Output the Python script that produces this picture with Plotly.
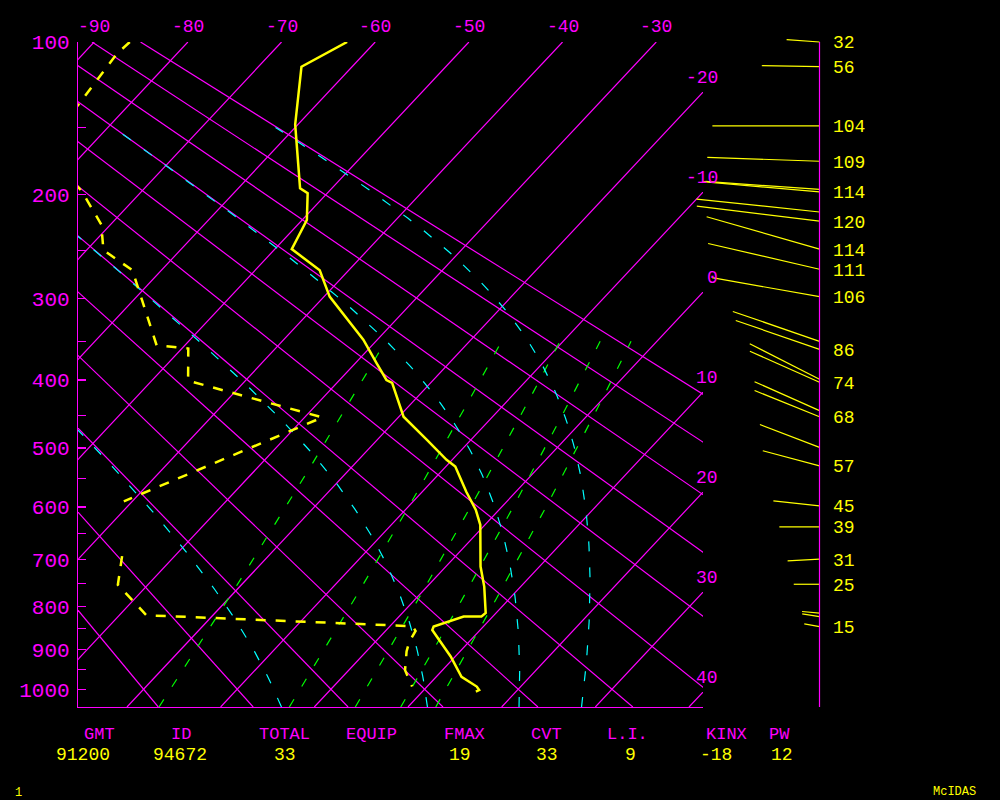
import numpy as np
import plotly.graph_objects as go

# ---------------- sounding data ----------------
temp_p = [100, 113, 148, 195, 199, 222, 249, 270, 298, 328, 348, 378, 400, 404,
          452, 487, 519, 530, 573, 605, 633, 715, 757, 815, 823, 823, 836, 846,
          854, 917, 968, 993, 1002, 1006]
temp_c = [-63.0, -65.4, -60.3, -53.4, -52.1, -49.5, -48.2, -43.1, -39.4, -34.6,
          -31.5, -27.7, -25.0, -24.1, -19.5, -14.7, -10.6, -9.0, -5.3, -2.5,
          -0.5, 3.7, 6.1, 8.9, 8.8, 6.9, 5.7, 4.7, 4.9, 9.5, 12.7, 15.3, 15.9, 15.7]

dewp_p = [100, 106, 164, 198, 226, 250, 270, 355, 359, 401, 453, 590, 650, 694,
          753, 820, 845, 856, 881, 905, 951, 993]
dewp_c = [-86.2, -86.4, -84.6, -76.3, -71.0, -68.2, -63.1, -53.0, -49.3, -46.1,
          -28.1, -40.9, None, -35.6, -33.2, -27.1, 2.4, 3.2, 3.6, 4.3, 6.0, 8.4]

wind_p = [100, 113, 149, 174, 196, 198, 215, 223, 249, 269, 298, 350, 360, 399,
          403, 443, 452, 499, 529, 598, 637, 700, 752, 815, 823, 846]
wind_dir = [274, 271, 270, 272, 274, 275, 276, 277, 286, 283, 280, 289, 289, 297,
            294, 294, 292, 291, 285, 276, 270, 267, 270, 275, 279, 280]
wind_spd = [32, 56, 104, 109, 111, 114, 120, 120, 114, 111, 106, 89, 86, 76,
            74, 69, 68, 62, 57, 45, 39, 31, 25, 17, 17, 15]
wind_labeled = [1, 1, 1, 1, 0, 1, 0, 1, 1, 1, 1, 0, 1, 0,
                1, 0, 1, 0, 1, 1, 1, 1, 1, 0, 0, 1]

# ---------------- diagram background definitions ----------------
isotherms_c = list(range(-90, 50, 10))
top_labels_c = [-90, -80, -70, -60, -50, -40, -30]
right_labels_c = [-20, -10, 0, 10, 20, 30, 40]
dry_adiabats_c = list(range(-20, 100, 10))
moist_adiabats_c = [0, 30, 60, 90]          # equivalent potential temperature, degC
mixing_ratios_gkg = [1, 3, 5, 7, 9]
pressure_ticks = list(range(100, 1050, 50))

stat_names = ["GMT", "ID", "TOTAL", "EQUIP", "FMAX", "CVT", "L.I.", "KINX", "PW"]
stat_values = ["91200", "94672", "33", "", "19", "33", "9", "-18", "12"]

# ---------------- geometry / styles ----------------
KAP = 0.2857
P_TOP, P_BOT = 100.0, 1047.0
SKEW = 18.66
X_MIN, X_MAX = -27.0, 39.72
WIND_SCALE = 1.03  # px per knot

MAGENTA, YELLOW, CYAN, GREEN = "#ff00ff", "#ffff00", "#00ffff", "#00ff00"
FONT = "Liberation Mono"
W, H = 1000, 800
X_DOM = [0.078, 0.703]
Y_DOM = [1 - 707 / H, 1 - 42 / H]
X2_DOM = [0.68, 0.90]
WIND_AXIS_PX = 819.5
PAD = 12  # px of extra room for the wind panel so sticks are not clipped


def pk(p):
    return np.asarray(p, float) ** KAP


U1000 = 1000.0 ** KAP
U_TOP, U_BOT = float(pk(P_TOP)), float(pk(P_BOT))
PX_PER_U = (Y_DOM[1] - Y_DOM[0]) * H / (U_BOT - U_TOP)


def skx(t, p):
    return np.asarray(t, float) + SKEW * (U1000 - pk(p))


def multi(lines):
    xs, ys = [], []
    for x, y in lines:
        xs += list(x) + [None]
        ys += list(y) + [None]
    return xs, ys


def theta_e(tc, p):
    tk = tc + 273.15
    es = 6.112 * np.exp(17.67 * tc / (tc + 243.5))
    ws = 0.622 * es / (p - es)
    return tk * (1000.0 / p) ** KAP * np.exp(2.5e6 * ws / (1004.0 * tk))


def moist_t(the_c, p):
    target = the_c + 273.15
    lo = np.full_like(p, -120.0)
    hi = np.full_like(p, 45.0)
    for _ in range(60):
        mid = (lo + hi) / 2
        f = theta_e(mid, p) - target
        hi = np.where(f > 0, mid, hi)
        lo = np.where(f > 0, lo, mid)
    return (lo + hi) / 2


fig = go.Figure()

# isotherms
lines = []
for t in isotherms_c:
    p = np.array([P_TOP, P_BOT])
    lines.append((skx([t, t], p), pk(p)))
x, y = multi(lines)
fig.add_trace(go.Scatter(x=x, y=y, mode="lines", line=dict(color=MAGENTA, width=1.2),
                         hoverinfo="skip", showlegend=False))

# dry adiabats
lines = []
for th in dry_adiabats_c:
    p = np.linspace(P_TOP, P_BOT, 30)
    t = (th + 273.15) * (p / 1000.0) ** KAP - 273.15
    lines.append((skx(t, p), pk(p)))
x, y = multi(lines)
fig.add_trace(go.Scatter(x=x, y=y, mode="lines", line=dict(color=MAGENTA, width=1.2),
                         hoverinfo="skip", showlegend=False))

# mixing ratio lines
for w in mixing_ratios_gkg:
    p = np.linspace(P_BOT, 350, 40)
    es = w * p / (622.0 + w)
    lr = np.log(es / 6.112)
    t = 243.5 * lr / (17.67 - lr)
    fig.add_trace(go.Scatter(x=skx(t, p), y=pk(p), mode="lines",
                             line=dict(color=GREEN, width=1.2, dash="9px,15px"),
                             hoverinfo="skip", showlegend=False))

# moist adiabats
for the in moist_adiabats_c:
    p = np.linspace(P_BOT, 150, 90)
    t = moist_t(the, p)
    fig.add_trace(go.Scatter(x=skx(t, p), y=pk(p), mode="lines",
                             line=dict(color=CYAN, width=1.2, dash="10px,16px"),
                             hoverinfo="skip", showlegend=False))

# temperature & dew point
fig.add_trace(go.Scatter(x=skx(temp_c, temp_p), y=pk(temp_p), mode="lines",
                         line=dict(color=YELLOW, width=2.5), showlegend=False))
dx = [None if d is None else float(skx(d, p)) for d, p in zip(dewp_c, dewp_p)]
fig.add_trace(go.Scatter(x=dx, y=pk(dewp_p), mode="lines", connectgaps=False,
                         line=dict(color=YELLOW, width=2.5, dash="10px,10px"),
                         showlegend=False))

# wind sticks (own axes with identical vertical scale, slightly padded)
wx, wy = [], []
for p, d, s in zip(wind_p, wind_dir, wind_spd):
    r = np.deg2rad(d)
    u0 = float(pk(p))
    wx += [0.0, s * np.sin(r), None]
    wy += [u0, u0 - s * np.cos(r) * WIND_SCALE / PX_PER_U, None]
fig.add_trace(go.Scatter(x=wx, y=wy, xaxis="x2", yaxis="y2", mode="lines",
                         line=dict(color=YELLOW, width=1.2), showlegend=False))

# wind axis line
fig.add_shape(type="line", xref="x2", yref="y2", x0=0, x1=0, y0=U_TOP, y1=U_BOT,
              line=dict(color=MAGENTA, width=1.2))

ann = []
# isotherm labels
for t in top_labels_c:
    ann.append(dict(x=float(skx(t, P_TOP)), y=U_TOP, xref="x", yref="y", text=str(t),
                    showarrow=False, yshift=15, xanchor="center", yanchor="middle",
                    font=dict(family=FONT, size=18, color=MAGENTA)))
for t in right_labels_c:
    u_int = U1000 - (X_MAX - t) / SKEW   # where the isotherm meets the right edge
    ann.append(dict(x=X_MAX, y=u_int, xref="x", yref="y", text=str(t),
                    showarrow=False, xshift=17, yshift=14.5, xanchor="right",
                    yanchor="middle", font=dict(family=FONT, size=18, color=MAGENTA)))
# wind speed labels
for p, s, lab in zip(wind_p, wind_spd, wind_labeled):
    if lab:
        ann.append(dict(x=0, y=float(pk(p)), xref="x2", yref="y2", text=str(s),
                        showarrow=False, xshift=11, yshift=-1.5, xanchor="left",
                        yanchor="middle", font=dict(family=FONT, size=18, color=YELLOW)))
# bottom statistics
name_x = [99, 181, 284, 371, 464, 546, 627, 726, 779]
val_x = [83, 180, 285, 371, 460, 547, 630, 716, 782]
for n, v, nx, vx in zip(stat_names, stat_values, name_x, val_x):
    ann.append(dict(x=nx / W, y=1 - 734 / H, xref="paper", yref="paper", text=n,
                    showarrow=False, xanchor="center", yanchor="middle",
                    font=dict(family=FONT, size=17, color=MAGENTA)))
    if v:
        ann.append(dict(x=vx / W, y=1 - 755 / H, xref="paper", yref="paper", text=v,
                        showarrow=False, xanchor="center", yanchor="middle",
                        font=dict(family=FONT, size=18, color=YELLOW)))
ann.append(dict(x=954 / W, y=1 - 792 / H, xref="paper", yref="paper", text="McIDAS",
                showarrow=False, xanchor="center", yanchor="middle",
                font=dict(family=FONT, size=12, color=YELLOW)))
ann.append(dict(x=18.5 / W, y=1 - 793 / H, xref="paper", yref="paper", text="1",
                showarrow=False, xanchor="center", yanchor="middle",
                font=dict(family=FONT, size=12, color=YELLOW)))

fig.update_layout(
    width=W, height=H,
    margin=dict(l=0, r=0, t=0, b=0, autoexpand=False),
    paper_bgcolor="black", plot_bgcolor="rgba(0,0,0,0)",
    showlegend=False,
    annotations=ann,
    xaxis=dict(domain=X_DOM, range=[X_MIN, X_MAX], showgrid=False, zeroline=False,
               showticklabels=False, ticks="", showline=True, linecolor=MAGENTA,
               linewidth=1.2, mirror=False, anchor="y"),
    yaxis=dict(domain=Y_DOM, range=[U_BOT, U_TOP], showgrid=False, zeroline=False,
               tickvals=[float(v) for v in pk(pressure_ticks)],
               ticktext=[str(p) if p % 100 == 0 else "" for p in pressure_ticks],
               ticks="inside", ticklen=8, tickcolor=MAGENTA, tickwidth=1.2,
               showline=True, linecolor=MAGENTA, linewidth=1.2, anchor="x",
               ticklabelstandoff=3,
               tickfont=dict(family=FONT, size=21, color=MAGENTA)),
    xaxis2=dict(domain=X2_DOM,
                range=[-(WIND_AXIS_PX - X2_DOM[0] * W) / WIND_SCALE,
                       (X2_DOM[1] * W - WIND_AXIS_PX) / WIND_SCALE],
                visible=False, anchor="y2"),
    yaxis2=dict(domain=[Y_DOM[0] - PAD / H, Y_DOM[1] + PAD / H],
                range=[U_BOT + PAD / PX_PER_U, U_TOP - PAD / PX_PER_U],
                visible=False, anchor="x2"),
)

fig.write_html(
    "out.html",
    config={"displayModeBar": False, "staticPlot": True},
    post_script="document.body.style.margin='0';document.body.style.padding='0';"
                "document.body.style.background='black';",
)
